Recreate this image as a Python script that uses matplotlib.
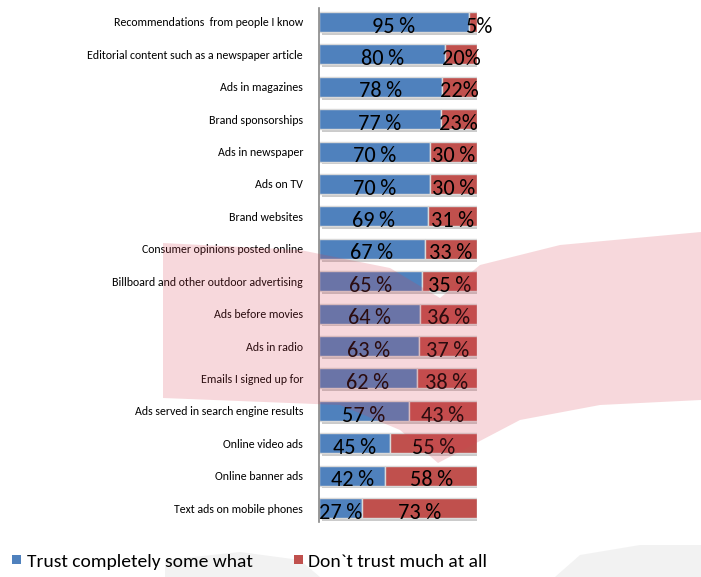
import matplotlib
matplotlib.use("Agg")
import matplotlib.pyplot as plt
import matplotlib.patheffects as pe
from matplotlib.patches import Polygon, Rectangle
from matplotlib import font_manager

names = {f.name for f in font_manager.fontManager.ttflist}
FONT = ['DejaVu Sans']
for cand in ['Carlito', 'Liberation Sans Narrow', 'Roboto Condensed', 'PT Sans Narrow', 'Liberation Sans']:
    if cand in names:
        FONT = [cand, 'DejaVu Sans']
        break
plt.rcParams['font.family'] = FONT

categories = [
    "Recommendations  from people I know",
    "Editorial content such as a newspaper article",
    "Ads in magazines",
    "Brand sponsorships",
    "Ads in newspaper",
    "Ads on TV",
    "Brand websites",
    "Consumer opinions posted online",
    "Billboard and other outdoor advertising",
    "Ads before movies",
    "Ads in radio",
    "Emails I signed up for",
    "Ads served in search engine results",
    "Online video ads",
    "Online banner ads",
    "Text ads on mobile phones",
]
trust = [95, 80, 78, 77, 70, 70, 69, 67, 65, 64, 63, 62, 57, 45, 42, 27]
distrust = [5, 20, 22, 23, 30, 30, 31, 33, 35, 36, 37, 38, 43, 55, 58, 73]
TS = "\u2009"
trust_labels = [f"{v}{TS}%" for v in trust]
distrust_labels = ["5%", "20%", "22%", "23%"] + [f"{v}{TS}%" for v in distrust[4:]]
legend_labels = ["Trust completely some what", "Don`t trust much at all"]

BLUE = '#4F81BD'
RED = '#C0504D'

W, H = 701, 577
fig = plt.figure(figsize=(W / 100, H / 100), dpi=100)

def fx(x):
    return x / W

def fy(y):
    return 1 - y / H

ax = fig.add_axes([fx(319), fy(522), fx(477) - fx(319), fy(8) - fy(522)])
ypos = list(range(len(categories)))
shadow = [pe.withSimplePatchShadow(offset=(2, -2), shadow_rgbFace='#999999', alpha=0.5)]
ax.barh(ypos, trust, height=0.62, color=BLUE, edgecolor='#D9D9D9', linewidth=1.0,
        path_effects=shadow)
ax.barh(ypos, distrust, left=trust, height=0.62, color=RED, edgecolor='#D9D9D9', linewidth=1.0,
        path_effects=shadow)

for i in ypos:
    ax.text(trust[i] / 2, i + 0.33, trust_labels[i], ha='center', va='baseline', fontsize=16, color='black')
    xr = trust[i] + distrust[i] / 2
    if distrust[i] < 10:
        xr = trust[i] + distrust[i] + 1.5
    ax.text(xr, i + 0.33, distrust_labels[i], ha='center', va='baseline', fontsize=16, color='black')

ax.set_xlim(0, 100)
ax.set_ylim(15.43, -0.43)
ax.set_yticks(ypos)
ax.set_yticklabels(categories, fontsize=8.6)
ax.tick_params(axis='y', length=0, pad=11.5)
for lab in ax.get_yticklabels():
    lab.set_y(lab.get_position()[1])
ax.set_xticks([])
for s in ['top', 'right', 'bottom']:
    ax.spines[s].set_visible(False)
ax.spines['left'].set_color('#888888')
ax.spines['left'].set_linewidth(1.2)

# decorative background shapes
pts = [(163, 243), (300, 250), (390, 268), (440, 298), (480, 265), (560, 245), (701, 232),
       (701, 400), (600, 405), (520, 420), (438, 463), (400, 430), (340, 405), (163, 398)]
fig.patches.append(Polygon([(fx(x), fy(y)) for x, y in pts], closed=True,
                           transform=fig.transFigure, facecolor='#D84050', alpha=0.2,
                           edgecolor='none', zorder=5))
grey1 = [(165, 577), (165, 560), (240, 552), (300, 560), (320, 577)]
grey2 = [(555, 577), (580, 555), (640, 545), (701, 545), (701, 577)]
for g in (grey1, grey2):
    fig.patches.append(Polygon([(fx(x), fy(y)) for x, y in g], closed=True,
                               transform=fig.transFigure, facecolor='#F2F2F2',
                               edgecolor='none', zorder=-1))

# legend
fig.patches.append(Rectangle((fx(12), fy(564)), fx(9), 9 / H, transform=fig.transFigure,
                             facecolor=BLUE, edgecolor='none', zorder=6))
fig.text(fx(27), fy(567), legend_labels[0], fontsize=14, va='baseline', ha='left')
fig.patches.append(Rectangle((fx(294), fy(564)), fx(9), 9 / H, transform=fig.transFigure,
                             facecolor=RED, edgecolor='none', zorder=6))
fig.text(fx(308), fy(567), legend_labels[1], fontsize=14, va='baseline', ha='left')

fig.savefig('out.png', dpi=100)
